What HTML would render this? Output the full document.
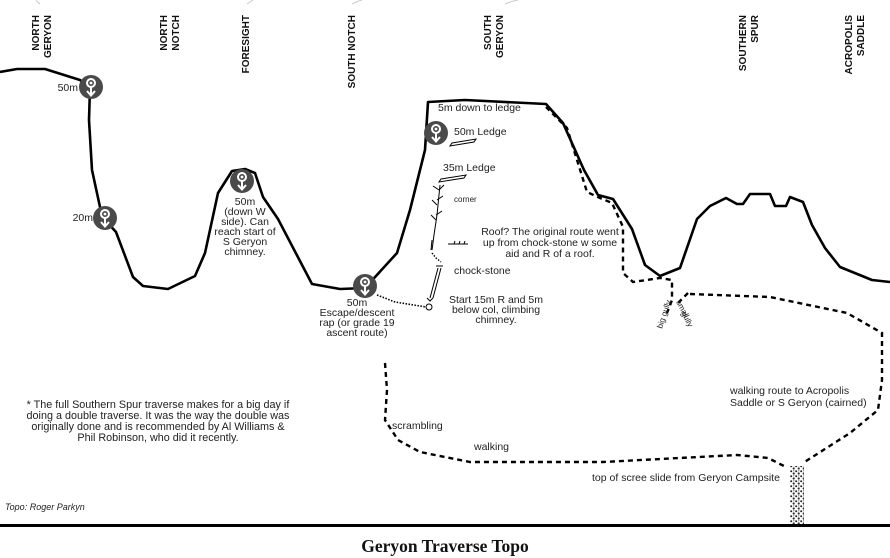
<!DOCTYPE html>
<html><head><meta charset="utf-8"><style>
html,body{margin:0;padding:0;background:#fff;}
svg{display:block;font-family:"Liberation Sans",Arial,sans-serif;}
</style></head><body>
<svg width="890" height="558" viewBox="0 0 890 558" xmlns="http://www.w3.org/2000/svg">
<defs>
<pattern id="scree" width="5" height="5" patternUnits="userSpaceOnUse">
<rect width="5" height="5" fill="#fff"/>
<circle cx="1.2" cy="1.2" r="1" fill="#222"/><circle cx="3.7" cy="3.5" r="1.1" fill="#333"/><circle cx="3.8" cy="0.8" r="0.6" fill="#555"/>
</pattern>
<g id="rap">
<circle r="12" fill="#4a4a4a"/>
<circle cx="0" cy="-4" r="4" fill="none" stroke="#fff" stroke-width="2"/>
<circle cx="0" cy="-4" r="1.4" fill="#fff"/>
<line x1="0" y1="0" x2="0" y2="8" stroke="#fff" stroke-width="2"/>
<polyline points="-4,4 0,8.5 4,4" fill="none" stroke="#fff" stroke-width="2"/>
</g>
</defs>
<g stroke="#ccc" fill="none" stroke-width="1">
<path d="M36,0 Q38,3 40,4"/><path d="M247,4 Q250,2 253,0"/><path d="M352,4 Q358,1 362,0"/><path d="M505,4 Q512,1 518,0"/>
</g>
<g font-size="10" font-weight="bold" fill="#111">
<text transform="translate(39,15) rotate(-90)" text-anchor="end">NORTH</text>
<text transform="translate(51,15) rotate(-90)" text-anchor="end">GERYON</text>
<text transform="translate(167,15) rotate(-90)" text-anchor="end">NORTH</text>
<text transform="translate(179,15) rotate(-90)" text-anchor="end">NOTCH</text>
<text transform="translate(249,15) rotate(-90)" text-anchor="end">FORESIGHT</text>
<text transform="translate(355,15) rotate(-90)" text-anchor="end">SOUTH NOTCH</text>
<text transform="translate(491,15) rotate(-90)" text-anchor="end">SOUTH</text>
<text transform="translate(503,15) rotate(-90)" text-anchor="end">GERYON</text>
<text transform="translate(746,15) rotate(-90)" text-anchor="end">SOUTHERN</text>
<text transform="translate(758,15) rotate(-90)" text-anchor="end">SPUR</text>
<text transform="translate(852,15) rotate(-90)" text-anchor="end">ACROPOLIS</text>
<text transform="translate(864,15) rotate(-90)" text-anchor="end">SADDLE</text>
</g>
<polyline fill="none" stroke="#000" stroke-width="2.6" stroke-linejoin="round" points="0,72 17,69 45,69 80,80 90,88 89,120 92,170 100,207 105,220 116,232 133,277 143,286 168,289 195,276 205,253 218,193 232,171 245,169 255,173 263,197 278,219 312,284 340,289 365,288 397,253 410,210 425,150 428,102 465,100 546,104 563,123 584,170 598,195 613,199 632,229 645,265 660,276 680,268 697,219 710,206 726,198 737,204 743,204 750,194 770,194 775,206 786,206 790,197 803,202 812,225 825,248 840,267 872,280 890,282"/>
<g fill="none" stroke="#000" stroke-width="2.4" stroke-dasharray="5,4">
<polyline points="546,107 567,128 587,192 600,198 612,203 623,227 623,273 633,282 660,278 672,280 672,300 667,313"/>
<polyline points="688,293 676,305"/>
<polyline points="690,294 770,297 847,313 882,333 882,380 878,410 850,433 803,463"/>
<polyline points="385,363 387,390 385,420 398,440 420,452 470,462 603,462 737,455 768,458 784,466"/>
</g>
<polyline points="377,295 395,302 426,307" fill="none" stroke="#000" stroke-width="1.6" stroke-dasharray="1.5,1.5"/>
<g fill="none" stroke="#000" stroke-width="1">
<polyline points="440,185 437,215 434,235 432,250"/>
<polyline points="439,190 444,185"/><polyline points="439,190 433,186"/>
<polyline points="437,200 443,196"/><polyline points="437,205 432,200"/>
<polyline points="436,215 442,211"/><polyline points="436,220 431,215"/>
<polyline points="432,240 431,250"/>
<polyline points="432,253 436,258 441,262" stroke-dasharray="1.5,1.5" stroke-width="1.4"/>
<polyline points="438,268 430,298"/><polyline points="441,268 433,298"/>
<polyline points="436,266 443,266"/>
<polyline points="427,298 430,301 433,298"/>
<circle cx="429" cy="307" r="3" fill="#fff"/>
<polyline points="448,244 468,244"/><polyline points="454,244 455,241"/><polyline points="459,244 460,241"/><polyline points="464,244 465,241"/>
<polygon points="452,143 476,139 474,142 450,146"/>
<polygon points="441,179 466,175 464,178 439,182"/>
</g>
<rect x="790" y="466" width="14" height="60" fill="url(#scree)"/>
<rect x="0" y="524" width="890" height="3" fill="#000"/>
<use href="#rap" x="91" y="87"/>
<use href="#rap" x="105" y="218"/>
<use href="#rap" x="242" y="181"/>
<use href="#rap" x="365" y="286"/>
<use href="#rap" x="436" y="133"/>
<g font-size="10.5" fill="#222">
<text x="78" y="91" text-anchor="end">50m</text>
<text x="93" y="221" text-anchor="end">20m</text>
<g text-anchor="middle">
<text x="245" y="205">50m</text>
<text x="245" y="215">(down W</text>
<text x="245" y="225">side). Can</text>
<text x="245" y="235">reach start of</text>
<text x="245" y="245">S Geryon</text>
<text x="245" y="255">chimney.</text>
<text x="357" y="306">50m</text>
<text x="357" y="316">Escape/descent</text>
<text x="357" y="326">rap (or grade 19</text>
<text x="357" y="336">ascent route)</text>
<text x="550" y="235">Roof? The original route went</text>
<text x="550" y="246">up from chock-stone w some</text>
<text x="550" y="257">aid and R of a roof.</text>
<text x="496" y="303">Start 15m R and 5m</text>
<text x="496" y="313">below col, climbing</text>
<text x="496" y="323">chimney.</text>
<g font-size="10.8">
<text x="158" y="408">* The full Southern Spur traverse makes for a big day if</text>
<text x="158" y="419">doing a double traverse.  It was the way the double was</text>
<text x="158" y="430">originally done and is recommended by Al Williams &amp;</text>
<text x="158" y="441">Phil Robinson, who did it recently.</text>
</g>
</g>
<text x="438" y="111">5m down to ledge</text>
<text x="454" y="135">50m Ledge</text>
<text x="443" y="171">35m Ledge</text>
<text x="454" y="202" font-size="8">corner</text>
<text x="454" y="274">chock-stone</text>
<text x="392" y="429">scrambling</text>
<text x="474" y="450">walking</text>
<text x="730" y="394">walking route to Acropolis</text>
<text x="730" y="406">Saddle or S Geryon (cairned)</text>
<text x="592" y="481">top of scree slide from Geryon Campsite</text>
<text x="5" y="510" font-size="9" font-style="italic">Topo: Roger Parkyn</text>
<text transform="translate(662,329) rotate(-72)" font-size="8">big gully</text>
<text transform="translate(676,302) rotate(62)" font-size="8">small</text>
<text transform="translate(681,313) rotate(62)" font-size="8">gully</text>
</g>
<text x="445" y="552" text-anchor="middle" font-family="'Liberation Serif',serif" font-weight="bold" font-size="17.5" fill="#111">Geryon Traverse Topo</text>
</svg>
</body></html>
